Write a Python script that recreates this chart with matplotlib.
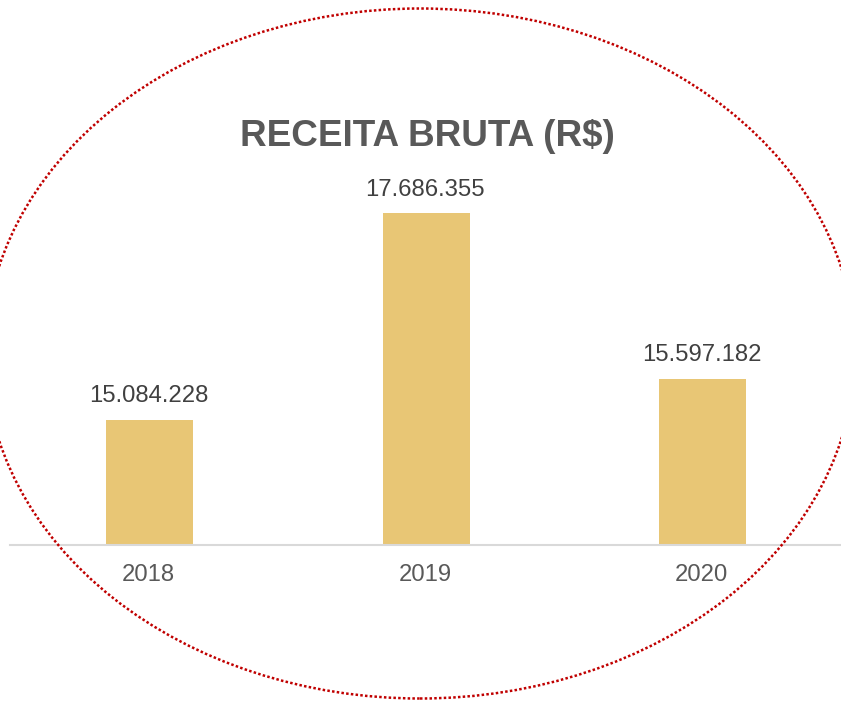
import matplotlib
matplotlib.use("Agg")
import matplotlib.pyplot as plt
from matplotlib.patches import Ellipse

categories = ["2018", "2019", "2020"]
values = [15084228, 17686355, 15597182]
labels = ["15.084.228", "17.686.355", "15.597.182"]
title = "RECEITA BRUTA (R$)"

plt.rcParams['font.family'] = ['Liberation Sans', 'DejaVu Sans']

W, H = 841, 701
fig = plt.figure(figsize=(W / 100, H / 100), dpi=100)
fig.patch.set_facecolor("white")

ax_left, ax_right = 10 / W, 840 / W
ax_bottom = (H - 545) / H
ax_top = (H - 149) / H
ax = fig.add_axes([ax_left, ax_bottom, ax_right - ax_left, ax_top - ax_bottom])

x = range(len(categories))
ax.bar([xi + 0.004 for xi in x], values, width=0.314, color="#E8C675", zorder=2)
ax.set_xlim(-0.5, 2.5)
ax.set_ylim(13500000, 18500000)

for xi, v, lab in zip(x, values, labels):
    ax.annotate(lab, (xi, v), xytext=(0, 17), textcoords="offset points",
                ha="center", va="center", fontsize=17.2, color="#404040")

ax.set_xticks(list(x))
ax.set_xticklabels(categories, fontsize=17.2, color="#595959")
ax.tick_params(axis="x", length=0, pad=14)
ax.set_yticks([])
for s in ["top", "right", "left"]:
    ax.spines[s].set_visible(False)
ax.spines["bottom"].set_color("#D9D9D9")
ax.spines["bottom"].set_linewidth(1.5)
ax.patch.set_visible(False)

fig.text(427 / W, 1 - 136 / H, title, ha="center", va="center",
         fontsize=26.6, fontweight="bold", color="#595959")

ell = Ellipse((420 / W, 1 - 353.5 / H), 870 / W, 690 / H,
              transform=fig.transFigure, fill=False, edgecolor="#C00000",
              linewidth=1.8, linestyle=(0, (1, 0.9)), zorder=5)
ell.set_capstyle("butt")
fig.patches.append(ell)

fig.savefig("out.png", dpi=100)
